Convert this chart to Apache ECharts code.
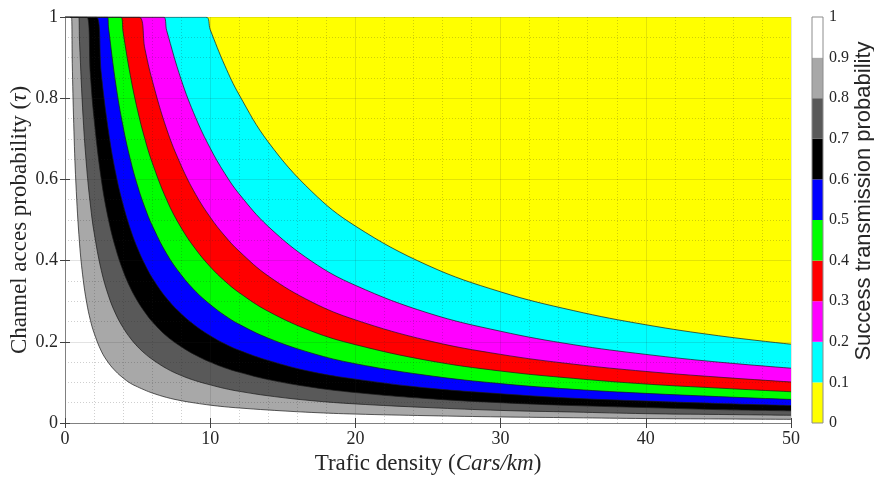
<!DOCTYPE html>
<html><head><meta charset="utf-8">
<script src="https://cdn.jsdelivr.net/npm/echarts@6/dist/echarts.min.js"></script>
<style>html,body{margin:0;padding:0;background:#fff}#c{width:874px;height:478px}</style>
</head><body><div id="c"></div>
<script>
// Traffic density sample positions (Cars/km)
const densityX = [0.5,0.6,0.75,1,1.25,1.5,1.75,2,2.5,3,3.5,4,4.5,5,5.5,6,7,8,9,10,11,12,14,17,20,25,30,35,40,45,50];
// Contour levels (boundary between bands)
const boundaryLevels = [0.1,0.2,0.3,0.4,0.5,0.6,0.7,0.8,0.9];
// x where each boundary leaves the top edge (tau = 1)
const topCrossX = [9.69,6.77,5.07,3.85,2.92,2.15,1.50,0.94,0.44];
// tau of each boundary at densityX (null = above the plot)
const tauP01 = [null,null,null,null,null,null,null,null,null,null,null,null,null,null,null,null,null,null,null,0.969,0.881,0.808,0.692,0.570,0.485,0.388,0.323,0.277,0.242,0.215,0.194];
const tauP02 = [null,null,null,null,null,null,null,null,null,null,null,null,null,null,null,null,0.967,0.846,0.752,0.677,0.615,0.564,0.484,0.398,0.339,0.271,0.226,0.193,0.169,0.150,0.135];
const tauP03 = [null,null,null,null,null,null,null,null,null,null,null,null,null,null,0.922,0.845,0.724,0.634,0.563,0.507,0.461,0.423,0.362,0.298,0.254,0.203,0.169,0.145,0.127,0.113,0.101];
const tauP04 = [null,null,null,null,null,null,null,null,null,null,null,0.963,0.856,0.770,0.700,0.642,0.550,0.481,0.428,0.385,0.350,0.321,0.275,0.226,0.193,0.154,0.128,0.110,0.096,0.086,0.077];
const tauP05 = [null,null,null,null,null,null,null,null,null,0.973,0.834,0.730,0.649,0.584,0.531,0.487,0.417,0.365,0.324,0.292,0.265,0.243,0.209,0.172,0.146,0.117,0.097,0.083,0.073,0.065,0.058];
const tauP06 = [null,null,null,null,null,null,null,null,0.860,0.717,0.614,0.538,0.478,0.430,0.391,0.358,0.307,0.269,0.239,0.215,0.195,0.179,0.154,0.126,0.108,0.086,0.072,0.061,0.054,0.048,0.043];
const tauP07 = [null,null,null,null,null,null,0.857,0.750,0.600,0.500,0.429,0.375,0.333,0.300,0.273,0.250,0.214,0.188,0.167,0.150,0.136,0.125,0.107,0.088,0.075,0.060,0.050,0.043,0.038,0.033,0.030];
const tauP08 = [null,null,null,0.939,0.751,0.626,0.537,0.470,0.376,0.313,0.268,0.235,0.209,0.188,0.171,0.157,0.134,0.117,0.104,0.094,0.085,0.078,0.067,0.055,0.047,0.038,0.031,0.027,0.023,0.021,0.019];
const tauP09 = [0.886,0.738,0.591,0.443,0.354,0.295,0.253,0.222,0.177,0.148,0.127,0.111,0.098,0.089,0.081,0.074,0.063,0.055,0.049,0.044,0.040,0.037,0.032,0.026,0.022,0.018,0.015,0.013,0.011,0.010,0.009];
// colour of the band just below each boundary
const bandBelowColors = ['#00ffff','#ff00ff','#ff0000','#00ff00','#0000ff','#000000','#595959','#a8a8a8','#ffffff'];
// colorbar
const cbLevels = [0,0.1,0.2,0.3,0.4,0.5,0.6,0.7,0.8,0.9,1];
const cbColors = ['#ffff00','#00ffff','#ff00ff','#ff0000','#00ff00','#0000ff','#000000','#595959','#a8a8a8','#ffffff'];
const xTickValues = [0,10,20,30,40,50];
const yTickValues = [0,0.2,0.4,0.6,0.8,1];

const boundaries = [tauP01,tauP02,tauP03,tauP04,tauP05,tauP06,tauP07,tauP08,tauP09];
const serif = 'Liberation Serif';
const txt = '#262626';

const series = boundaries.map((arr, i) => {
  const data = [[0, 1], [topCrossX[i], 1]];
  arr.forEach((v, j) => { if (v !== null) data.push([densityX[j], v]); });
  return {
    type: 'line', name: 'P=' + boundaryLevels[i], data, symbol: 'none', silent: true,
    xAxisIndex: 0, yAxisIndex: 0, z: 2, smooth: 0.4,
    lineStyle: { color: '#1a1a1a', width: 0.7 },
    areaStyle: { color: bandBelowColors[i], opacity: 1 }
  };
});
cbColors.forEach((c, i) => {
  series.push({
    type: 'bar', stack: 'cb', data: [+(cbLevels[i + 1] - cbLevels[i]).toFixed(2)], barWidth: '100%',
    itemStyle: { color: c }, xAxisIndex: 2, yAxisIndex: 2, silent: true, z: 2
  });
});

const chart = echarts.init(document.getElementById('c'));
const mainAxisLine = { show: true, lineStyle: { color: '#808080', width: 1 } };
const tick = { show: true, inside: true, length: 5, lineStyle: { color: '#404040' } };
const nameRich = { n: { fontFamily: serif, fontSize: 23, color: txt }, i: { fontFamily: serif, fontSize: 23, fontStyle: 'italic', color: txt } };
chart.setOption({
  animation: false,
  backgroundColor: '#ffffff',
  grid: [
    { left: 65, right: 83, top: 17, bottom: 55, show: true, backgroundColor: '#ffff00', borderWidth: 0, containLabel: false, outerBoundsMode: 'none' },
    { left: 812, width: 11, top: 17, height: 406, show: true, backgroundColor: 'transparent', borderColor: '#8c8c8c', borderWidth: 1, z: 10, containLabel: false, outerBoundsMode: 'none' }
  ],
  xAxis: [
    { type: 'value', gridIndex: 0, min: xTickValues[0], max: xTickValues[xTickValues.length - 1], interval: 10, position: 'bottom', z: 5,
      axisLine: mainAxisLine, axisTick: tick,
      axisLabel: { fontFamily: serif, fontSize: 18, color: txt, margin: 7 },
      splitLine: { show: true, lineStyle: { color: 'rgba(38,38,38,0.13)' } },
      minorTick: { show: true, splitNumber: 5, length: 0, lineStyle: { opacity: 0 } },
      minorSplitLine: { show: true, lineStyle: { color: 'rgba(38,38,38,0.22)', type: [1, 2] } },
      name: '{n|Trafic density (}{i|Cars/km}{n|)}', nameLocation: 'middle', nameGap: 29, nameMoveOverlap: false,
      nameTextStyle: { rich: nameRich }
    },
    { type: 'value', gridIndex: 0, min: 0, max: 50, interval: 10, position: 'top', z: 5,
      axisLine: mainAxisLine, axisTick: tick, axisLabel: { show: false }, splitLine: { show: false } },
    { type: 'category', gridIndex: 1, data: ['cb'], show: false }
  ],
  yAxis: [
    { type: 'value', gridIndex: 0, min: yTickValues[0], max: yTickValues[yTickValues.length - 1], interval: 0.2, position: 'left', z: 5,
      axisLine: mainAxisLine, axisTick: tick,
      axisLabel: { fontFamily: serif, fontSize: 18, color: txt, margin: 7 },
      splitLine: { show: true, lineStyle: { color: 'rgba(38,38,38,0.13)' } },
      minorTick: { show: true, splitNumber: 4, length: 0, lineStyle: { opacity: 0 } },
      minorSplitLine: { show: true, lineStyle: { color: 'rgba(38,38,38,0.22)', type: [1, 2] } },
      name: '{n|Channel acces probability (}{i|τ}{n|)}', nameLocation: 'middle', nameGap: 34, nameRotate: 90, nameMoveOverlap: false,
      nameTextStyle: { rich: nameRich }
    },
    { type: 'value', gridIndex: 0, min: 0, max: 1, interval: 0.2, position: 'right', z: 5,
      axisLine: mainAxisLine, axisTick: tick, axisLabel: { show: false }, splitLine: { show: false } },
    { type: 'value', gridIndex: 1, min: cbLevels[0], max: cbLevels[cbLevels.length - 1], interval: 0.1, position: 'right',
      axisLine: { show: false }, axisTick: { show: false }, splitLine: { show: false },
      axisLabel: { fontFamily: serif, fontSize: 16, color: txt, margin: 6 },
      name: 'Success transmission probability', nameLocation: 'middle', nameRotate: 90, nameGap: 28,
      nameTextStyle: { fontFamily: 'Liberation Sans', fontSize: 22, color: txt, padding: [0, 0, 0, 38] }
    }
  ],
  series
});
</script></body></html>
